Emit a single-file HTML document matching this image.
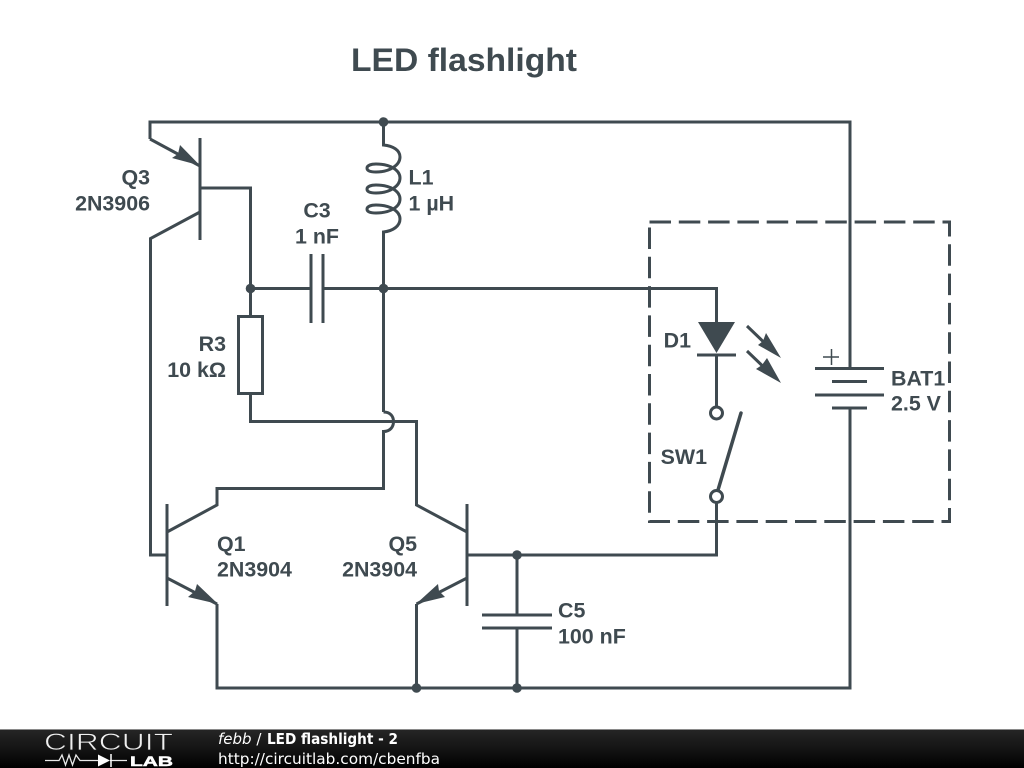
<!DOCTYPE html>
<html>
<head>
<meta charset="utf-8">
<title>LED flashlight</title>
<style>
html,body{margin:0;padding:0;background:#fff;width:1024px;height:768px;overflow:hidden}
svg{display:block}
.w{fill:none;stroke:#3f4a50;stroke-width:3;stroke-linejoin:miter}
.l{font-family:"Liberation Sans",sans-serif;font-weight:bold;font-size:21.400px;fill:#3f4a50}
.f{font-family:"DejaVu Sans",sans-serif;font-size:15px;fill:#fff}
</style>
</head>
<body>
<svg width="1024" height="768" viewBox="0 0 1024 768" xmlns="http://www.w3.org/2000/svg">
<defs>
<linearGradient id="g" x1="0" y1="0" x2="0" y2="1">
<stop offset="0" stop-color="#262626"/><stop offset="0.5" stop-color="#141414"/><stop offset="1" stop-color="#000"/>
</linearGradient>
</defs>
<rect width="1024" height="768" fill="#fff"/>
<text x="351" y="71" font-family="Liberation Sans, sans-serif" font-weight="bold" font-size="32" fill="#3f4a50" textLength="226" lengthAdjust="spacingAndGlyphs">LED flashlight</text>

<!-- outer wires -->
<path class="w" d="M150 139V122H850V368"/>
<path class="w" d="M850 408V688H217V604"/>
<path class="w" d="M416.500 688V604"/>
<path class="w" d="M517 555V615M517 628V688"/>

<!-- Q3 -->
<path class="w" d="M150 139L200 166"/>
<path class="w" d="M200 138V240"/>
<path class="w" d="M200 188H250.500V316"/>
<path class="w" d="M200 212L150.500 238.500V555H167"/>
<path d="M200 165.500L172 158L178 154L180 145Z" fill="#3f4a50"/>

<!-- L1 -->
<path class="w" d="M383.500 122V145C393 146 400 150 400 157C400 165 390 172 376 172C370 172 367 170.500 367 168C367 165.500 371 164 376 164C390 164 400 170 400 178C400 186 390 193 376 193C370 193 367 191.500 367 189C367 186.500 371 185 376 185C390 185 400 191 400 199C400 207 390 213 376 213C370 213 367 211.500 367 209C367 206.500 371 205 376 205C390 205 400 211 400 219C400 226 393 231 383.500 232V412"/>
<path class="w" d="M383.500 412C390 412 393.500 416 393.500 421.500C393.500 427 390 431.500 383.500 431.500V488.500H217V505L167 532"/>

<!-- C3 and net -->
<path class="w" d="M250.500 288.500H311M323 288.500H716.500V322"/>
<path class="w" d="M311 254V323M323 254V323"/>

<!-- R3 -->
<rect x="238.500" y="316.500" width="24" height="77" class="w"/>
<path class="w" d="M250.500 393V421.500H416.500V505L467 532"/>

<!-- Q1 / Q5 -->
<path class="w" d="M167 504V606"/>
<path class="w" d="M467 504V606"/>
<path class="w" d="M167 578L217 604"/>
<path class="w" d="M467 578L416.500 604"/>
<path d="M218 604L188 597L195 591L197 584Z" fill="#3f4a50"/>
<path d="M416 604L445 597L439 591L438 584Z" fill="#3f4a50"/>
<path class="w" d="M467 555H716.500V503"/>

<!-- C5 -->
<path class="w" d="M482 615H552M482 628H552"/>

<!-- D1 -->
<path d="M698 322H735L716.500 353Z" fill="#3f4a50"/>
<path class="w" d="M697 355H736M716.500 355V407"/>
<circle cx="716.500" cy="413" r="6" fill="#fff" stroke="#3f4a50" stroke-width="3"/>
<circle cx="716.500" cy="496.500" r="6" fill="#fff" stroke="#3f4a50" stroke-width="3"/>
<path class="w" d="M741 413L718 490" stroke-linecap="round" style="stroke-width:3.500"/>
<path class="w" d="M747 326L772 350M747 351L772 375"/>
<path d="M781 358L758 345L763 341L766 333Z" fill="#3f4a50"/>
<path d="M781 383L756 369L762 365L767 358Z" fill="#3f4a50"/>

<!-- BAT1 -->
<path class="w" d="M815 368.500H884M832 381.500H867M815 395H884M832 408H867"/>
<path d="M823 357H839M831.500 349V365" fill="none" stroke="#3f4a50" stroke-width="1.500"/>

<!-- dashed box -->
<rect x="649.500" y="222" width="300" height="299.500" fill="none" stroke="#3f4a50" stroke-width="3" stroke-dasharray="21.500 7.800"/>

<!-- junctions -->
<g fill="#3f4a50">
<circle cx="383.500" cy="122" r="4.800"/>
<circle cx="250.500" cy="288.500" r="4.800"/>
<circle cx="383.500" cy="288.500" r="4.800"/>
<circle cx="517" cy="555" r="4.800"/>
<circle cx="416.500" cy="688" r="4.800"/>
<circle cx="517" cy="688" r="4.800"/>
</g>

<!-- labels -->
<text class="l" x="150" y="184.500" text-anchor="end">Q3</text>
<text class="l" x="150" y="210.500" text-anchor="end">2N3906</text>
<text class="l" x="408.500" y="184.500">L1</text>
<text class="l" x="408.500" y="210.500">1 µH</text>
<text class="l" x="317" y="217.500" text-anchor="middle">C3</text>
<text class="l" x="317" y="243.500" text-anchor="middle">1 nF</text>
<text class="l" x="226" y="351" text-anchor="end">R3</text>
<text class="l" x="226" y="377" text-anchor="end">10 kΩ</text>
<text class="l" x="691" y="347.500" text-anchor="end">D1</text>
<text class="l" x="707" y="464" text-anchor="end">SW1</text>
<text class="l" x="891" y="385.500">BAT1</text>
<text class="l" x="891" y="410.500">2.5 V</text>
<text class="l" x="217" y="551">Q1</text>
<text class="l" x="217" y="576.500">2N3904</text>
<text class="l" x="417" y="551" text-anchor="end">Q5</text>
<text class="l" x="417" y="576.500" text-anchor="end">2N3904</text>
<text class="l" x="558" y="617.500">C5</text>
<text class="l" x="558" y="643.500">100 nF</text>

<!-- footer -->
<rect x="0" y="729" width="1024" height="39" fill="url(#g)"/>
<rect x="0" y="729" width="1024" height="1" fill="#8a8a8a"/>
<text x="44" y="750" font-family="Liberation Sans, sans-serif" font-size="24" fill="#f0f0f0" stroke="#1c1c1c" stroke-width="0.700" textLength="129" lengthAdjust="spacingAndGlyphs">CIRCUIT</text>
<path d="M45 760.500H59L62 755L65.500 765L69 755L72.500 765L76 755L80 760.500H98M110 760.500H127" fill="none" stroke="#e8e8e8" stroke-width="1.300"/>
<path d="M98 754.500V766.500L110 760.500Z" fill="#fff"/>
<path d="M111 754V767" stroke="#fff" stroke-width="1.500"/>
<text x="130" y="766" font-family="Liberation Sans, sans-serif" font-weight="bold" font-size="14" fill="#fff" stroke="#fff" stroke-width="0.500" textLength="43" lengthAdjust="spacingAndGlyphs">LAB</text>
<text class="f" x="218" y="744"><tspan font-style="italic">febb</tspan> / </text>
<text class="f" x="267" y="744" font-weight="bold" font-size="14.500" textLength="131" lengthAdjust="spacingAndGlyphs">LED flashlight - 2</text>
<text class="f" x="218" y="764" textLength="222" lengthAdjust="spacingAndGlyphs">http://circuitlab.com/cbenfba</text>
</svg>
</body>
</html>
